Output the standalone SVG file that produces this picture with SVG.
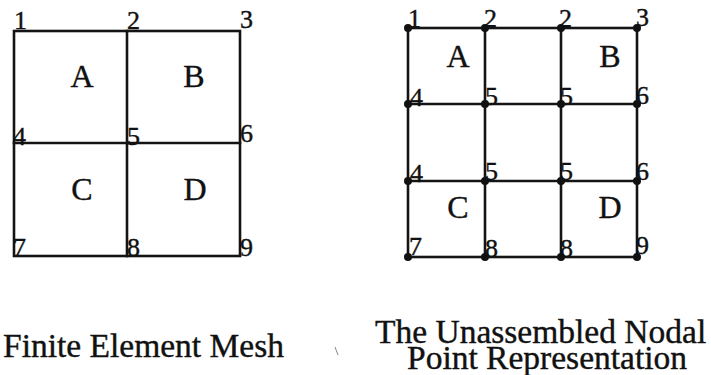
<svg xmlns="http://www.w3.org/2000/svg" width="711" height="375" viewBox="0 0 711 375">
<style>
.ln{stroke:#141414;stroke-width:2.6;fill:none;stroke-linecap:square}
.num{font-family:"Liberation Serif","Times New Roman",serif;font-size:26px;fill:#111;stroke:#111;stroke-width:0.4}
.let{font-family:"Liberation Serif","Times New Roman",serif;font-size:32px;fill:#111;stroke:#111;stroke-width:0.4;text-anchor:middle}
.cap{font-family:"Liberation Serif","Times New Roman",serif;font-size:33.5px;fill:#111;stroke:#111;stroke-width:0.4}
.dot{fill:#111}
</style>
<rect width="711" height="375" fill="#fff"/>

<g id="connectors">
  <g id="left-mesh-lines">
    <rect class="ln" x="14" y="31" width="226" height="225"/>
    <line class="ln" x1="127" y1="31" x2="127" y2="256"/>
    <line class="ln" x1="14" y1="143" x2="240" y2="143"/>
  </g>
  <g id="right-mesh-lines">
    <rect class="ln" x="408" y="28" width="229" height="229"/>
    <line class="ln" x1="485" y1="28" x2="485" y2="257"/>
    <line class="ln" x1="561" y1="28" x2="561" y2="257"/>
    <line class="ln" x1="408" y1="104" x2="637" y2="104"/>
    <line class="ln" x1="408" y1="181" x2="637" y2="181"/>
  </g>
</g>

<g id="left-mesh">
  <g id="L-element-A"><text class="let" x="82" y="87">A</text></g>
  <g id="L-element-B"><text class="let" x="194" y="87">B</text></g>
  <g id="L-element-C"><text class="let" x="82" y="200">C</text></g>
  <g id="L-element-D"><text class="let" x="195" y="200">D</text></g>
  <g id="L-node-1"><text class="num" x="14" y="29">1</text></g>
  <g id="L-node-2"><text class="num" x="127" y="29">2</text></g>
  <g id="L-node-3"><text class="num" x="240" y="28">3</text></g>
  <g id="L-node-4"><text class="num" x="13" y="145">4</text></g>
  <g id="L-node-5"><text class="num" x="127" y="145">5</text></g>
  <g id="L-node-6"><text class="num" x="240" y="142">6</text></g>
  <g id="L-node-7"><text class="num" x="13" y="256">7</text></g>
  <g id="L-node-8"><text class="num" x="127" y="256">8</text></g>
  <g id="L-node-9"><text class="num" x="240" y="256">9</text></g>
</g>

<g id="right-mesh">
  <g id="R-dots">
    <circle class="dot" cx="408" cy="28" r="4"/><circle class="dot" cx="485" cy="28" r="4"/><circle class="dot" cx="561" cy="28" r="4"/><circle class="dot" cx="637" cy="28" r="4"/>
    <circle class="dot" cx="408" cy="104" r="4"/><circle class="dot" cx="485" cy="104" r="4"/><circle class="dot" cx="561" cy="104" r="4"/><circle class="dot" cx="637" cy="104" r="4"/>
    <circle class="dot" cx="408" cy="181" r="4"/><circle class="dot" cx="485" cy="181" r="4"/><circle class="dot" cx="561" cy="181" r="4"/><circle class="dot" cx="637" cy="181" r="4"/>
    <circle class="dot" cx="408" cy="257" r="4"/><circle class="dot" cx="485" cy="257" r="4"/><circle class="dot" cx="561" cy="257" r="4"/><circle class="dot" cx="637" cy="257" r="4"/>
  </g>
  <g id="R-element-A"><text class="let" x="458" y="67">A</text></g>
  <g id="R-element-B"><text class="let" x="610" y="67">B</text></g>
  <g id="R-element-C"><text class="let" x="458" y="218">C</text></g>
  <g id="R-element-D"><text class="let" x="610" y="218">D</text></g>
  <g id="R-labels">
    <text class="num" x="408" y="27">1</text>
    <text class="num" x="484" y="27">2</text>
    <text class="num" x="559" y="27">2</text>
    <text class="num" x="636" y="26">3</text>
    <text class="num" x="410" y="106">4</text>
    <text class="num" x="485" y="105">5</text>
    <text class="num" x="560" y="105">5</text>
    <text class="num" x="636" y="104">6</text>
    <text class="num" x="410" y="182">4</text>
    <text class="num" x="485" y="180">5</text>
    <text class="num" x="560" y="180">5</text>
    <text class="num" x="636" y="180">6</text>
    <text class="num" x="409" y="255">7</text>
    <text class="num" x="485" y="257">8</text>
    <text class="num" x="560" y="257">8</text>
    <text class="num" x="636" y="254">9</text>
  </g>
</g>

<g id="captions">
  <text class="cap" x="3" y="357">Finite Element Mesh</text>
  <text class="cap" x="375" y="343">The Unassembled Nodal</text>
  <text class="cap" x="407" y="369">Point Representation</text>
</g>
<line x1="335" y1="347" x2="338" y2="355" stroke="#888" stroke-width="1"/>
</svg>
